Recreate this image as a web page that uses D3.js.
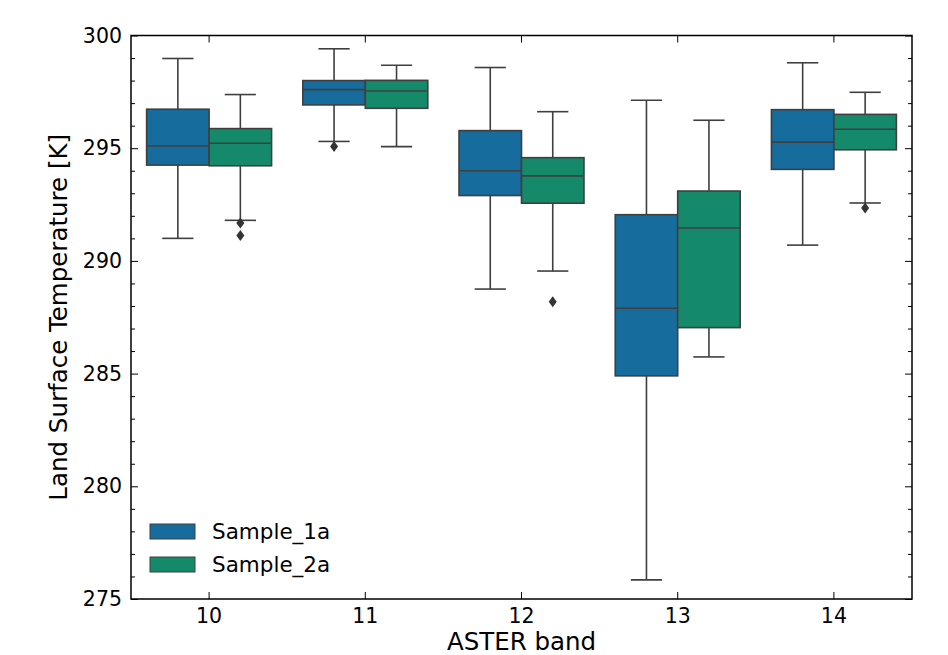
<!DOCTYPE html>
<html>
<head>
<meta charset="utf-8">
<script src="https://cdn.jsdelivr.net/npm/d3@7"></script>
<style>
  body { margin: 0; background: #fff; }
  text { font-family: 'DejaVu Sans', sans-serif; fill: #000; }
</style>
</head>
<body>
<div id="chart"></div>
<script>
// ASTER band categories and the two sample series
const bands = ['10', '11', '12', '13', '14'];
const series = ['Sample_1a', 'Sample_2a'];
const colors = ['#166c9c', '#148a6a'];

// box statistics per band
const s1Low = [291.0, 295.3, 288.75, 275.85, 290.7];
const s1Q1 = [294.25, 296.92, 292.9, 284.9, 294.06];
const s1Med = [295.1, 297.6, 294.0, 287.9, 295.27];
const s1Q3 = [296.73, 298.0, 295.78, 292.05, 296.71];
const s1High = [298.98, 299.41, 298.58, 297.13, 298.79];
const s1Out = [[], [295.07], [], [], []];

const s2Low = [291.8, 295.07, 289.55, 285.74, 292.57];
const s2Q1 = [294.22, 296.77, 292.56, 287.04, 294.93];
const s2Med = [295.22, 297.54, 293.77, 291.46, 295.84];
const s2Q3 = [295.87, 298.01, 294.58, 293.1, 296.5];
const s2High = [297.38, 298.68, 296.62, 296.24, 297.48];
const s2Out = [[291.68, 291.13], [], [288.19], [], [292.35]];

const yTicks = [275, 280, 285, 290, 295, 300];

const W = 948, H = 655;
const margin = { top: 35.5, right: 36, bottom: 56, left: 131 };

const svg = d3.select('#chart').append('svg')
  .attr('width', W)
  .attr('height', H);

const x = d3.scaleBand().domain(bands).range([margin.left, W - margin.right]).padding(0);
const y = d3.scaleLinear().domain([275, 300]).range([H - margin.bottom, margin.top]);
const hue = d3.scaleBand().domain(series)
  .range([-0.4 * x.bandwidth(), 0.4 * x.bandwidth()]);

const stats = [
  { low: s1Low, q1: s1Q1, med: s1Med, q3: s1Q3, high: s1High, out: s1Out },
  { low: s2Low, q1: s2Q1, med: s2Med, q3: s2Q3, high: s2High, out: s2Out },
];

const boxes = [];
series.forEach((s, si) => {
  bands.forEach((b, bi) => {
    const st = stats[si];
    boxes.push({
      band: b, series: s, color: colors[si],
      low: st.low[bi], q1: st.q1[bi], med: st.med[bi], q3: st.q3[bi], high: st.high[bi],
      out: st.out[bi],
    });
  });
});

const edge = '#3f3f3f';
const lw = 1.6;
const g = svg.append('g');

const box = g.selectAll('g.box').data(boxes).join('g').attr('class', 'box')
  .attr('transform', (d) => `translate(${x(d.band) + x.bandwidth() / 2 + hue(d.series)},0)`);

const bw = hue.bandwidth();

// whiskers
box.append('line')
  .attr('x1', bw / 2).attr('x2', bw / 2)
  .attr('y1', (d) => y(d.low)).attr('y2', (d) => y(d.q1))
  .attr('stroke', edge).attr('stroke-width', lw);
box.append('line')
  .attr('x1', bw / 2).attr('x2', bw / 2)
  .attr('y1', (d) => y(d.q3)).attr('y2', (d) => y(d.high))
  .attr('stroke', edge).attr('stroke-width', lw);
// caps
box.append('line')
  .attr('x1', bw / 4).attr('x2', bw * 3 / 4)
  .attr('y1', (d) => y(d.low)).attr('y2', (d) => y(d.low))
  .attr('stroke', edge).attr('stroke-width', lw);
box.append('line')
  .attr('x1', bw / 4).attr('x2', bw * 3 / 4)
  .attr('y1', (d) => y(d.high)).attr('y2', (d) => y(d.high))
  .attr('stroke', edge).attr('stroke-width', lw);
// box
box.append('rect')
  .attr('x', 0).attr('width', bw)
  .attr('y', (d) => y(d.q3)).attr('height', (d) => y(d.q1) - y(d.q3))
  .attr('fill', (d) => d.color)
  .attr('stroke', edge).attr('stroke-width', lw);
// median
box.append('line')
  .attr('x1', 0).attr('x2', bw)
  .attr('y1', (d) => y(d.med)).attr('y2', (d) => y(d.med))
  .attr('stroke', edge).attr('stroke-width', lw);
// outliers (thin diamonds)
box.selectAll('path.out').data((d) => d.out).join('path')
  .attr('class', 'out')
  .attr('d', 'M0,-5.5L4,0L0,5.5L-4,0Z')
  .attr('transform', (v) => `translate(${bw / 2},${y(v)})`)
  .attr('fill', '#333');

// axes: ticks point inward, on all four sides
const innerMajor = 7, innerMinor = 4;
const minorVals = d3.range(276, 300).filter((v) => v % 5 !== 0);

svg.append('g')
  .attr('transform', `translate(${margin.left},0)`)
  .call(d3.axisLeft(y).tickValues(yTicks).tickSizeInner(-innerMajor).tickSizeOuter(0).tickPadding(9))
  .call((a) => a.select('.domain').remove())
  .selectAll('text').style('font-size', '20.5px');
svg.append('g')
  .attr('transform', `translate(${margin.left},0)`)
  .call(d3.axisLeft(y).tickValues(minorVals).tickSizeInner(-innerMinor).tickSizeOuter(0).tickFormat(''))
  .call((a) => a.select('.domain').remove());
svg.append('g')
  .attr('transform', `translate(${W - margin.right},0)`)
  .call(d3.axisRight(y).tickValues(yTicks).tickSizeInner(-innerMajor).tickSizeOuter(0).tickFormat(''))
  .call((a) => a.select('.domain').remove());
svg.append('g')
  .attr('transform', `translate(${W - margin.right},0)`)
  .call(d3.axisRight(y).tickValues(minorVals).tickSizeInner(-innerMinor).tickSizeOuter(0).tickFormat(''))
  .call((a) => a.select('.domain').remove());
svg.append('g')
  .attr('transform', `translate(0,${H - margin.bottom})`)
  .call(d3.axisBottom(x).tickSizeInner(-innerMajor).tickSizeOuter(0).tickPadding(9))
  .call((a) => a.select('.domain').remove())
  .selectAll('text').style('font-size', '20.5px');
svg.append('g')
  .attr('transform', `translate(0,${margin.top})`)
  .call(d3.axisTop(x).tickSizeInner(-innerMajor).tickSizeOuter(0).tickFormat(''))
  .call((a) => a.select('.domain').remove());
svg.selectAll('.tick line').attr('stroke', '#000').attr('stroke-width', 1);

// frame
svg.append('rect')
  .attr('x', margin.left).attr('y', margin.top)
  .attr('width', W - margin.left - margin.right)
  .attr('height', H - margin.top - margin.bottom)
  .attr('fill', 'none').attr('stroke', '#000').attr('stroke-width', 1.5);

// axis labels
svg.append('text')
  .attr('x', (margin.left + W - margin.right) / 2).attr('y', 650)
  .attr('text-anchor', 'middle')
  .style('font-size', '24.5px')
  .text('ASTER band');
svg.append('text')
  .attr('transform', `translate(67,${(margin.top + H - margin.bottom) / 2}) rotate(-90)`)
  .attr('text-anchor', 'middle')
  .style('font-size', '24.5px')
  .text('Land Surface Temperature [K]');

// legend
const legend = svg.append('g').attr('transform', 'translate(150,524)');
const item = legend.selectAll('g').data(series).join('g')
  .attr('transform', (d, i) => `translate(0,${i * 33})`);
item.append('rect')
  .attr('width', 45).attr('height', 15)
  .attr('fill', (d, i) => colors[i])
  .attr('stroke', edge).attr('stroke-width', 1);
item.append('text')
  .attr('x', 62).attr('y', 7.5).attr('dy', '0.35em')
  .style('font-size', '21.5px')
  .text((d) => d);
</script>
</body>
</html>
